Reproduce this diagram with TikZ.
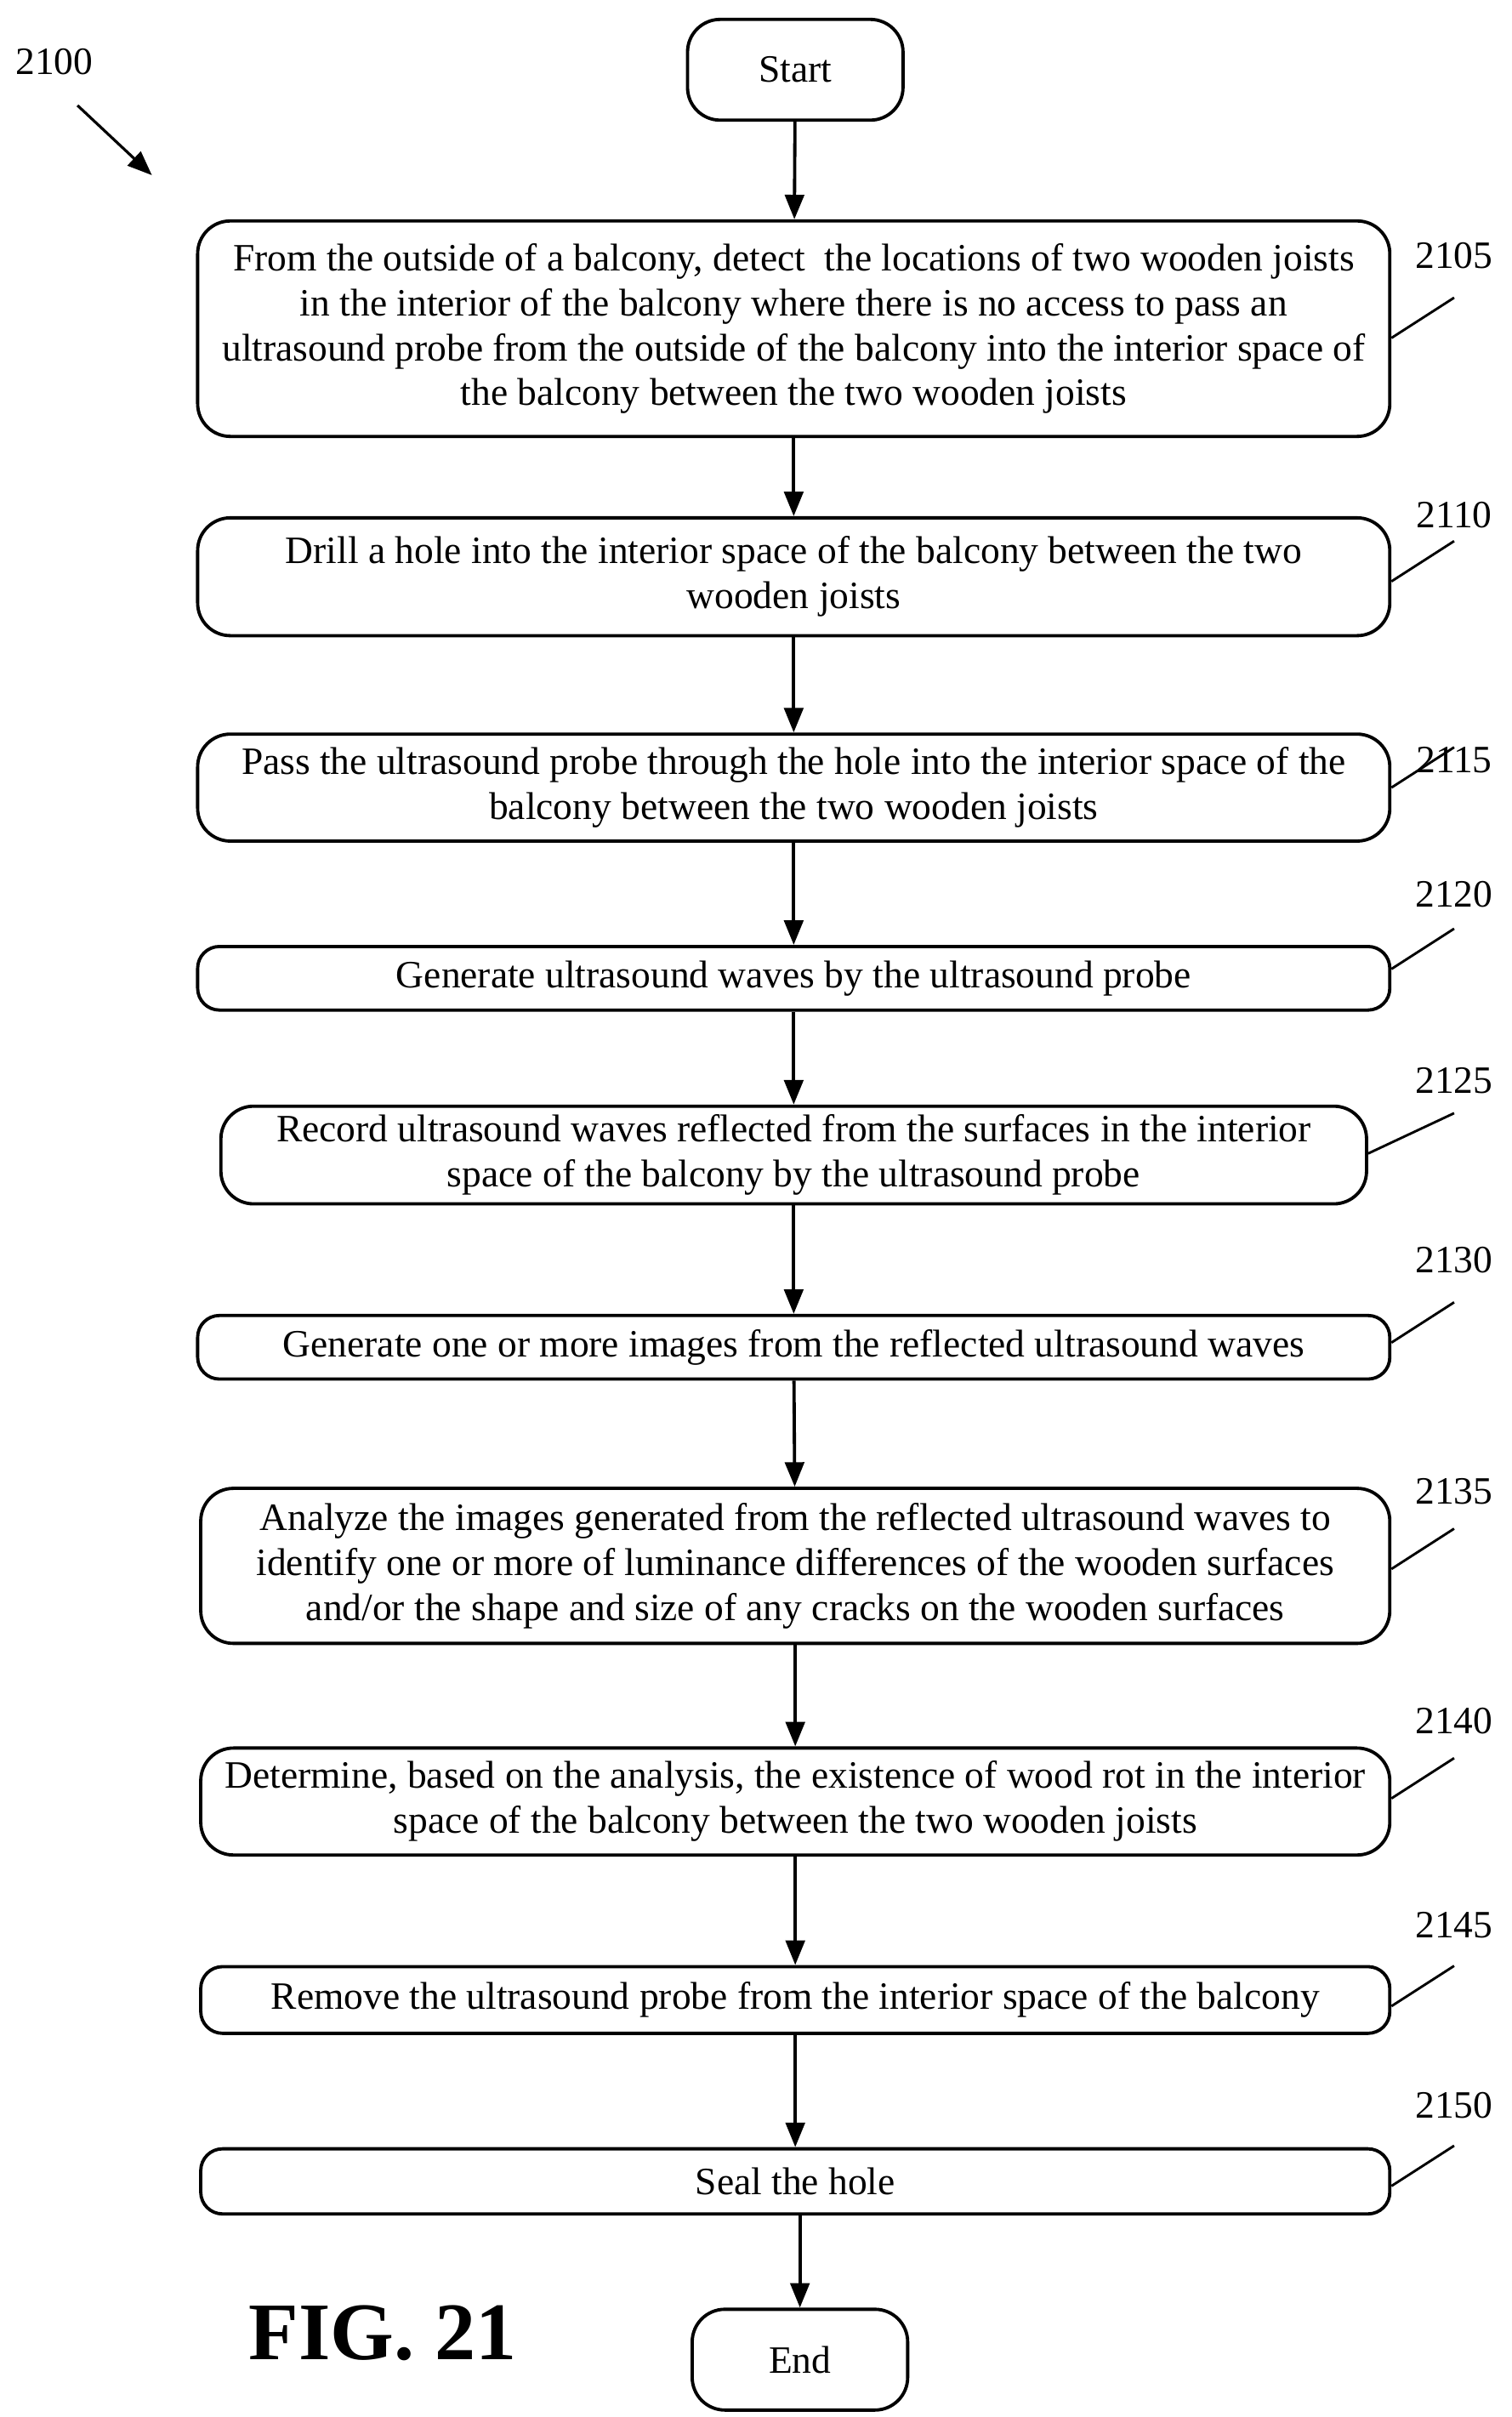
\documentclass[tikz,border=0pt]{standalone}
\usepackage{fontspec}
\setmainfont{Liberation Serif}
\usetikzlibrary{positioning, arrows.meta}
\tikzset{
  stepbox/.style={draw, line width=1.2pt, rounded corners=12pt, align=center, minimum width=15.38cm, inner sep=2pt, font=\fontsize{14.2}{16.5}\selectfont},
  term/.style={draw, line width=1.2pt, rounded corners=12pt, minimum width=2.78cm, minimum height=1.3cm, font=\fontsize{14.2}{16.5}\selectfont},
  flow/.style={-{Triangle[length=9pt,width=7pt]}, line width=1.2pt},
  tag/.style={font=\fontsize{14.2}{16.5}\selectfont, anchor=center},
  lead/.style={line width=0.9pt}
}
\newcommand\steptag[3]{\node[tag] (t#1) at (938,#2) {#1};\draw[lead] (s#1.east |- 0,#3) -- (938,{#3-26});}
\begin{document}
\begin{tikzpicture}[x=0.2mm,y=-0.2mm]
\useasboundingbox (0,0) rectangle (975,1559);
\node[term] (start) at (513,45) {Start};
\node[stepbox, minimum height=2.78cm] (s2105) at (512,212) {From the outside of a balcony, detect\ \ the locations of two wooden joists\\in the interior of the balcony where there is no access to pass an\\ultrasound probe from the outside of the balcony into the interior space of\\the balcony between the two wooden joists};
\node[stepbox, minimum height=1.52cm] (s2110) at (512,372) {Drill a hole into the interior space of the balcony between the two\\wooden joists};
\node[stepbox, minimum height=1.38cm] (s2115) at (512,508) {Pass the ultrasound probe through the hole into the interior space of the\\balcony between the two wooden joists};
\node[stepbox, minimum height=0.82cm, rounded corners=8pt] (s2120) at (512,631) {Generate ultrasound waves by the ultrasound probe};
\node[stepbox, minimum height=1.26cm, minimum width=14.78cm] (s2125) at (512,745) {Record ultrasound waves reflected from the surfaces in the interior\\space of the balcony by the ultrasound probe};
\node[stepbox, minimum height=0.82cm, rounded corners=8pt] (s2130) at (512,869) {Generate one or more images from the reflected ultrasound waves};
\node[stepbox, minimum height=2.0cm, minimum width=15.34cm] (s2135) at (513,1010) {Analyze the images generated from the reflected ultrasound waves to\\identify one or more of luminance differences of the wooden surfaces\\and/or the shape and size of any cracks on the wooden surfaces};
\node[stepbox, minimum height=1.38cm, minimum width=15.34cm] (s2140) at (513,1162) {Determine, based on the analysis, the existence of wood rot in the interior\\space of the balcony between the two wooden joists};
\node[stepbox, minimum height=0.86cm, minimum width=15.34cm, rounded corners=8pt] (s2145) at (513,1290) {Remove the ultrasound probe from the interior space of the balcony};
\node[stepbox, minimum height=0.84cm, minimum width=15.34cm, rounded corners=8pt] (s2150) at (513,1407) {Seal the hole};
\node[term] (end) at (516,1522) {End};

% connectors
\draw[flow] (start) -- (s2105);
\draw[flow] (s2105) -- (s2110);
\draw[flow] (s2110) -- (s2115);
\draw[flow] (s2115) -- (s2120);
\draw[flow] (s2120) -- (s2125);
\draw[flow] (s2125) -- (s2130);
\draw[flow] (s2130) -- (s2135);
\draw[flow] (s2135) -- (s2140);
\draw[flow] (s2140) -- (s2145);
\draw[flow] (s2145) -- (s2150);
\draw[flow] (s2150.south -| end) -- (end);

% reference numerals
\steptag{2105}{165}{218}
\steptag{2110}{332}{375}
\steptag{2115}{490}{508}
\steptag{2120}{577}{625}
\steptag{2125}{697}{744}
\steptag{2130}{813}{866}
\steptag{2135}{962}{1012}
\steptag{2140}{1110}{1160}
\steptag{2145}{1242}{1294}
\steptag{2150}{1358}{1410}

\node[tag] (fig) at (35,40) {2100};
\coordinate (figtip) at (98,113);
\draw[-{Triangle[length=9pt,width=7pt]}, line width=1pt] (50,68) -- (figtip);
\node[font=\fontsize{30}{36}\selectfont\bfseries] (title) at (247,1505) {FIG. 21};
\end{tikzpicture}
\end{document}
